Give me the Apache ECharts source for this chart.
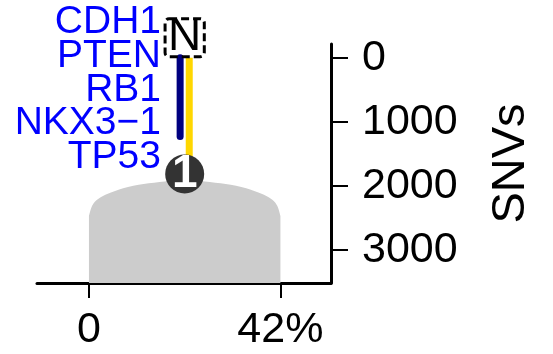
<!DOCTYPE html>
<html><head><meta charset="utf-8">
<script src="https://cdn.jsdelivr.net/npm/echarts@6/dist/echarts.min.js"></script>
<style>html,body{margin:0;padding:0;background:#fff}#c{width:553px;height:354px}</style>
</head><body><div id="c"></div>
<script>
// ---- data ----
const genes = ['CDH1', 'PTEN', 'RB1', 'NKX3\u22121', 'TP53'];
const yTickValues = [0, 1000, 2000, 3000];
const xTickValues = [0, 42];
const xTickLabels = ['0', '42%'];
const densityX = [0, 0.3, 0.6, 1.2, 2.4, 4, 7.5, 12, 16.6, 21, 25.4, 30, 34.5, 38, 39.6, 40.8, 41.4, 41.7, 42];
const densityY = [2470, 2390, 2330, 2260, 2190, 2130, 2040, 1975, 1935, 1910, 1935, 1975, 2040, 2130, 2190, 2260, 2330, 2390, 2470];
const navyX = [20, 20];
const navyY = [0, 1230];
const goldX = [22, 22];
const goldY = [0, 1817];
const clusterX = [21];
const clusterY = [1817];
const clusterNames = ['1'];
const topTagX = [21];
const topTagY = [0];
const topTagText = ['N'];

const FONT = "'Liberation Sans', Arial, sans-serif";
const zip = (a, b) => a.map((v, i) => [v, b[i]]);

const chart = echarts.init(document.getElementById('c'), null, {renderer: 'canvas'});
chart.setOption({
  animation: false,
  backgroundColor: '#ffffff',
  grid: {left: 37, right: 222, top: 44, bottom: 71, containLabel: false},
  xAxis: {
    type: 'value', min: -11.4, max: 53.1, position: 'bottom',
    splitLine: {show: false},
    axisLine: {show: true, onZero: false, lineStyle: {color: '#000', width: 3}},
    axisTick: {show: true, customValues: xTickValues, length: 15, lineStyle: {color: '#000', width: 2}},
    axisLabel: {show: true, customValues: xTickValues, margin: 26, fontSize: 43, color: '#000', fontFamily: FONT,
      formatter: v => xTickLabels[xTickValues.indexOf(Math.round(v))] ?? ''}
  },
  yAxis: {
    type: 'value', inverse: true, min: -214, max: 3520, position: 'right',
    splitLine: {show: false},
    axisLine: {show: true, onZero: false, lineStyle: {color: '#000', width: 3}},
    axisTick: {show: true, customValues: yTickValues, length: 17, lineStyle: {color: '#000', width: 2}},
    axisLabel: {show: true, customValues: yTickValues, margin: 31, fontSize: 43, color: '#000', fontFamily: FONT,
      formatter: v => String(v)},
    name: 'SNVs', nameLocation: 'middle', nameRotate: 90, nameGap: 157,
    nameTextStyle: {fontSize: 47, color: '#000', fontFamily: FONT}
  },
  series: [
    {
      type: 'line', data: zip(densityX, densityY), symbol: 'none', smooth: 0.3,
      lineStyle: {width: 0}, areaStyle: {color: '#cccccc', opacity: 1, origin: 'end'}, z: 1, silent: true
    },
    {
      type: 'line', data: zip(navyX, navyY), symbol: 'none',
      lineStyle: {color: '#000080', width: 7, cap: 'round'}, z: 2
    },
    {
      type: 'line', data: zip(goldX, goldY), symbol: 'none',
      lineStyle: {color: '#FFD700', width: 7, cap: 'butt'}, z: 2
    },
    {
      type: 'scatter', data: zip(clusterX, clusterY), symbol: 'circle', symbolSize: 39,
      itemStyle: {color: '#333333', opacity: 1}, z: 3,
      label: {show: true, position: 'inside', formatter: p => clusterNames[p.dataIndex],
        color: '#ffffff', fontSize: 46, fontFamily: FONT, fontWeight: 'bold'}
    },
    {
      type: 'scatter', data: zip(topTagX, topTagY), symbolSize: 0, clip: false, z: 4,
      itemStyle: {opacity: 1},
      label: {show: true, position: 'top', distance: 1, formatter: p => topTagText[p.dataIndex],
        color: '#000000', fontSize: 46, fontFamily: FONT, lineHeight: 38, padding: [0, 3, 0, 3],
        borderColor: '#000000', borderWidth: 3, borderType: [8, 4], borderRadius: 4}
    }
  ],
  graphic: genes.map((g, i) => ({
    type: 'text', x: 161, y: 22.5 + i * 33.7,
    style: {text: g, fill: '#0000ff', fontSize: 39, fontFamily: FONT, textAlign: 'right', textVerticalAlign: 'middle'},
    z: 10
  }))
});
</script></body></html>
